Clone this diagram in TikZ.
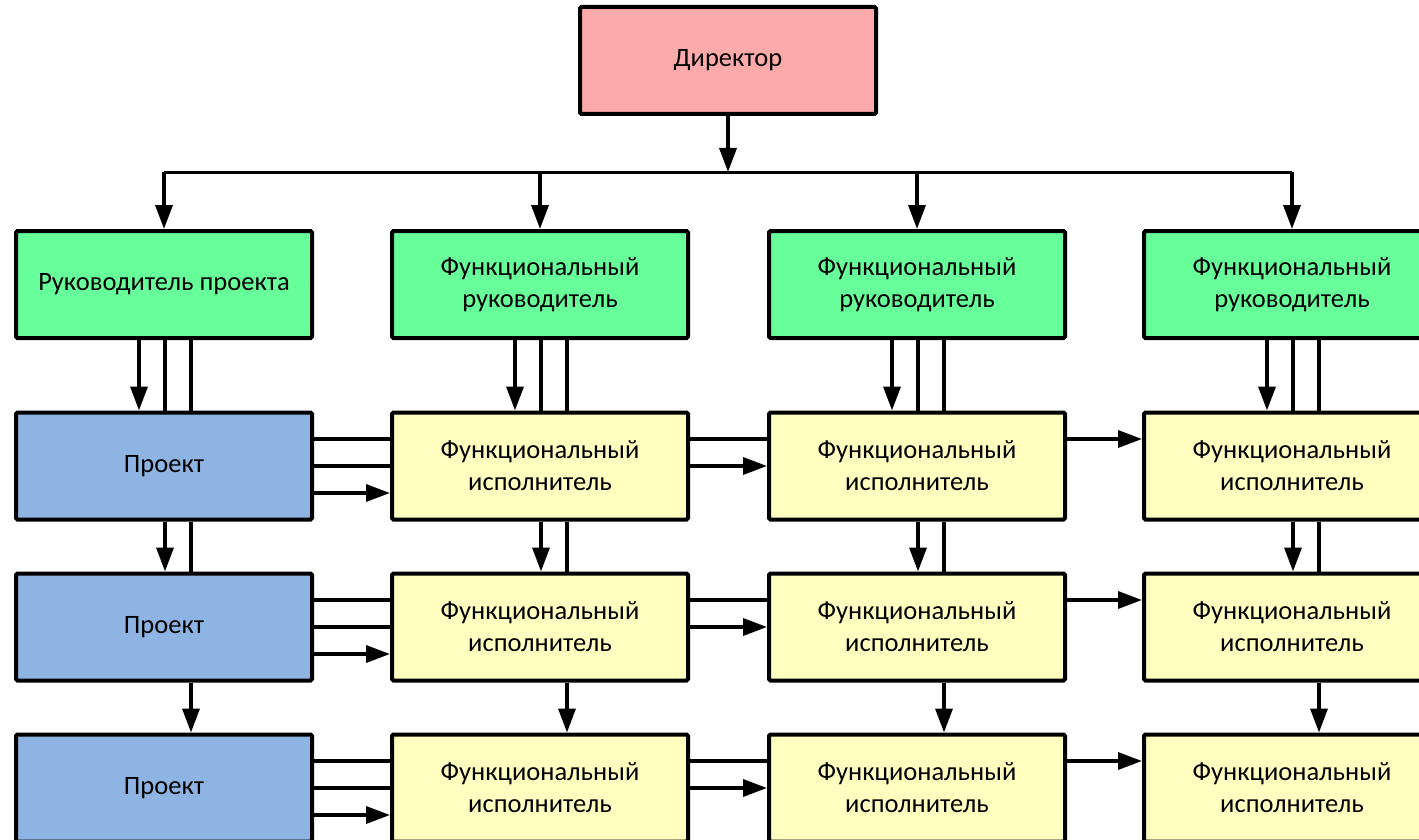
\documentclass[tikz,border=0pt]{standalone}
\usepackage{fontspec}
\setmainfont{Carlito}
\usetikzlibrary{arrows.meta}
\definecolor{cdir}{RGB}{255,170,170}
\definecolor{cgreen}{RGB}{102,255,153}
\definecolor{cblue}{RGB}{142,180,227}
\definecolor{cyel}{RGB}{255,255,192}
\tikzset{
  box/.style={draw=black,line width=4pt,rounded corners=1.5pt,minimum width=296pt,minimum height=107pt,inner sep=0pt,align=center,font=\fontsize{26.5}{32}\selectfont},
  ln/.style={line width=3.5pt,line cap=butt},
  arr/.style={ln,-{Triangle[length=24pt,width=17pt]}}
}
\begin{document}
\begin{tikzpicture}[x=1pt,y=-1pt]
\useasboundingbox (0,0) rectangle (1419,840);
% nodes
\node[box,fill=cdir] (d) at (728,60.5) {Директор};
\node[box,fill=cgreen] (g0) at (164,284.5) {Руководитель проекта};
\node[box,fill=cgreen] (g1) at (540,284.5) {Функциональный\\руководитель};
\node[box,fill=cgreen] (g2) at (917,284.5) {Функциональный\\руководитель};
\node[box,fill=cgreen] (g3) at (1292,284.5) {Функциональный\\руководитель};
\foreach \r/\y in {1/466,2/627,3/788}{
  \node[box,fill=cblue] (p\r) at (164,\y) {Проект};
  \node[box,fill=cyel] (f\r a) at (540,\y) {Функциональный\\исполнитель};
  \node[box,fill=cyel] (f\r b) at (917,\y) {Функциональный\\исполнитель};
  \node[box,fill=cyel] (f\r c) at (1292,\y) {Функциональный\\исполнитель};
}
% director to bus
\coordinate (bus) at (728,172);
\draw[arr] (d.south) -- (bus);
\draw[ln,line width=3pt] (g0.north |- bus) -- (g3.north |- bus);
\foreach \g in {g0,g1,g2,g3}{
  \draw[arr] (\g.north |- bus) -- (\g.north);
}
% vertical connectors
\foreach \g/\a/\b/\cc in {g0/p1/p2/p3,g1/f1a/f2a/f3a,g2/f1b/f2b/f3b,g3/f1c/f2c/f3c}{
  \draw[arr] ([xshift=-25pt]\g.south) -- ([xshift=-25pt]\a.north);
  \draw[ln] ([xshift=1pt]\g.south) -- ([xshift=1pt]\a.north);
  \draw[ln] ([xshift=27pt]\g.south) -- ([xshift=27pt]\a.north);
  \draw[arr] ([xshift=1pt]\a.south) -- ([xshift=1pt]\b.north);
  \draw[ln] ([xshift=27pt]\a.south) -- ([xshift=27pt]\b.north);
  \draw[arr] ([xshift=27pt]\b.south) -- ([xshift=27pt]\cc.north);
}
% horizontal connectors
\foreach \r in {1,2,3}{
  \draw[ln] ([yshift=27pt]p\r.east) -- ([yshift=27pt]f\r a.west);
  \draw[ln] ([yshift=27pt]f\r a.east) -- ([yshift=27pt]f\r b.west);
  \draw[arr] ([yshift=27pt]f\r b.east) -- ([yshift=27pt]f\r c.west);
  \draw[ln] (p\r.east) -- (f\r a.west);
  \draw[arr] (f\r a.east) -- (f\r b.west);
  \draw[arr] ([yshift=-27pt]p\r.east) -- ([yshift=-27pt]f\r a.west);
}
\end{tikzpicture}
\end{document}
